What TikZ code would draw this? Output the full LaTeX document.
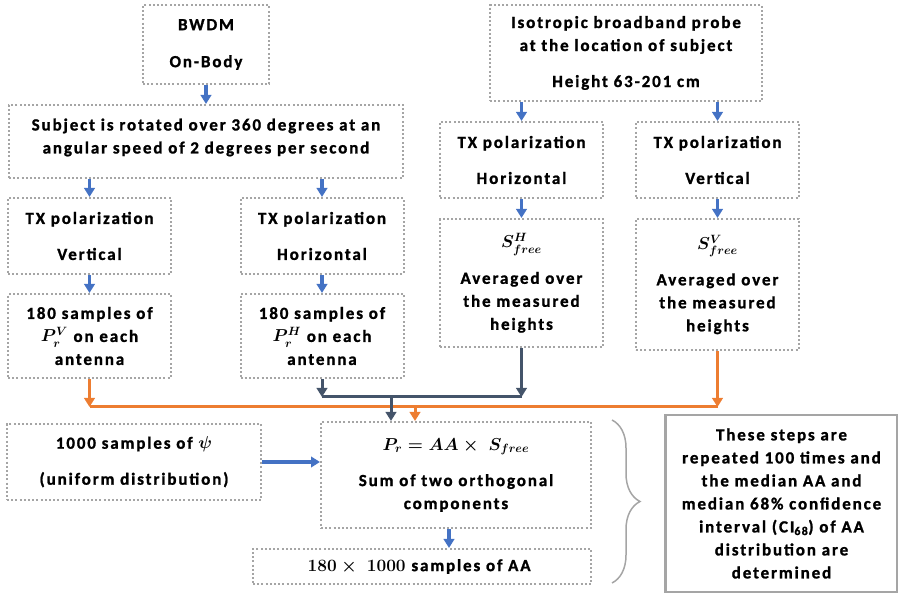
\documentclass[tikz,border=0pt]{standalone}
\usepackage{fontspec}
\setmainfont{Carlito}[LetterSpace=11, BoldFeatures={FakeBold=1.2}]
\usepackage{amsmath}
\usetikzlibrary{positioning, arrows.meta, calc, decorations.pathreplacing}

\definecolor{wordblue}{RGB}{68,114,196}
\definecolor{wordorange}{RGB}{237,125,49}
\definecolor{wordslate}{RGB}{68,84,106}
\definecolor{boxgray}{RGB}{165,165,165}

\begin{document}
\begin{tikzpicture}[
    x=1pt, y=-1pt,
    >={Triangle[length=9pt, width=10.5pt]},
    node distance=100pt and 100pt,
    on grid,
    every node/.style={font=\fontsize{17}{23}\selectfont\bfseries\boldmath},
    stage/.style={draw=boxgray, line width=2pt, dash pattern=on 2pt off 2.2pt, align=center, inner sep=0pt},
    txbox/.style={stage, minimum width=163pt, minimum height=76pt},
    summary/.style={draw=boxgray, line width=2.2pt, align=center, inner sep=0pt, minimum width=232pt, minimum height=177pt},
    flow/.style={->, wordblue, line width=3.2pt},
    orangewire/.style={wordorange, line width=3pt},
    slatewire/.style={wordslate, line width=3pt},
    bracket/.style={draw=boxgray, line width=1.5pt, decorate, decoration={brace, amplitude=28pt}}
]
\useasboundingbox (0,0) rectangle (898,593);

% -------------------------
% BWDM BRANCH
% -------------------------
\node[stage, minimum width=126pt, minimum height=79pt] (BWDM) at (206,44.5) {
    BWDM\\[14pt]
    On-Body
};

\node[stage, minimum width=394pt, minimum height=73pt] (Rotate) [below=97pt of BWDM] {
    Subject is rotated over 360 degrees at an\\
    angular speed of 2 degrees per second\\[-12pt]
};

\node[txbox] (TxV) [below left=94.5pt and 116.5pt of Rotate] {
    TX polarization\\[13pt]
    Vertical
};

\node[txbox] (TxH) [right=232.5pt of TxV] {
    TX polarization\\[13pt]
    Horizontal
};

\node[stage, minimum width=163pt, minimum height=84pt] (SampV) [below=100pt of TxV] {
    180 samples of\\
    $P_r^V$ on each\\
    antenna
};

\node[stage, minimum width=163pt, minimum height=84pt] (SampH) [below=100pt of TxH] {
    180 samples of\\
    $P_r^H$ on each\\
    antenna
};

% -------------------------
% PROBE BRANCH
% -------------------------
\node[stage, minimum width=272pt, minimum height=96pt] (Probe) at (626,53) {
    Isotropic broadband probe\\
    at the location of subject\\[13pt]
    Height 63-201 cm
};

\node[txbox] (ProbeH) [below left=107pt and 104.5pt of Probe] {
    TX polarization\\[13pt]
    Horizontal
};

\node[txbox] (ProbeV) [right=196pt of ProbeH] {
    TX polarization\\[13pt]
    Vertical
};

\node[stage, minimum width=163pt, minimum height=128pt] (SfreeH) [below=123pt of ProbeH] {
    $S_{free}^H$\\[13pt]
    Averaged over\\
    the measured\\
    heights
};

\node[stage, minimum width=163pt, minimum height=131pt] (SfreeV) [below=124.5pt of ProbeV] {
    $S_{free}^V$\\[13pt]
    Averaged over\\
    the measured\\
    heights
};

% -------------------------
% COMBINATION
% -------------------------
\node[stage, minimum width=270pt, minimum height=106pt] (Pr) at (456,475) {
    $P_r = AA\times\ S_{free}$\\[13pt]
    Sum of two orthogonal\\
    components
};

\node[stage, minimum width=254pt, minimum height=76pt] (Psi) [left=322pt of Pr, yshift=13pt] {
    1000 samples of $\psi$\\[13pt]
    (uniform distribution)
};

\node[stage, minimum width=338pt, minimum height=35pt] (Samples) [below=91.5pt of Pr, xshift=-34pt] {
    $180\times\ 1000$ samples of AA
};

\node[summary] (Note) [right=325.5pt of Pr, yshift=-28.5pt] {
    These steps are\\
    repeated 100 times and\\
    the median AA and\\
    median 68\% confidence\\
    interval (CI\textsubscript{68}) of AA\\
    distribution are\\
    determined
};

\coordinate (OrangeTap) at (415,407);
\coordinate (SlateTap) at (391,397);
\coordinate (BraceTop) at (612,420);
\coordinate (BraceBot) at (612,583);

% -------------------------
% CONNECTORS
% -------------------------
\draw[flow] (BWDM) -- (Rotate);
\draw[flow] (Rotate.south -| TxV) -- (TxV);
\draw[flow] (Rotate.south -| TxH) -- (TxH);
\draw[flow] (TxV) -- (SampV);
\draw[flow] (TxH) -- (SampH);

\draw[flow] (Probe.south -| ProbeH) -- (ProbeH);
\draw[flow] (Probe.south -| ProbeV) -- (ProbeV);
\draw[flow] (ProbeH) -- (SfreeH);
\draw[flow] (ProbeV) -- (SfreeV);

% vertical components
\draw[orangewire] (SampV.south |- OrangeTap) -- (SfreeV.south |- OrangeTap);
\draw[orangewire, ->] (SampV.south) -- (SampV.south |- OrangeTap);
\draw[orangewire, ->] (SfreeV.south) -- (SfreeV.south |- OrangeTap);
\draw[orangewire, ->] (OrangeTap) -- (OrangeTap |- Pr.north);

% horizontal components
\draw[slatewire] (SampH.south |- SlateTap) -- (SfreeH.south |- SlateTap);
\draw[slatewire, ->] (SampH.south) -- (SampH.south |- SlateTap);
\draw[slatewire, ->] (SfreeH.south) -- (SfreeH.south |- SlateTap);
\draw[slatewire, ->] (SlateTap) -- (SlateTap |- Pr.north);

\draw[flow] (Psi.east) -- (Psi.east -| Pr.west);
\draw[flow] ([xshift=-7pt]Pr.south) -- ([xshift=-7pt]Pr.south |- Samples.north);

\draw[bracket] (BraceTop) -- (BraceBot);

\end{tikzpicture}
\end{document}
